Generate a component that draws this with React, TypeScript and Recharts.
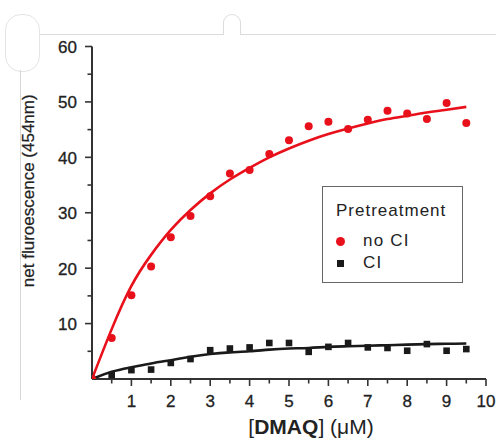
import React from 'react';
import { ComposedChart, Line, Scatter, XAxis, YAxis } from 'recharts';

// [DMAQ] concentrations (uM) shared by every series
const concentrations = [0, 0.5, 1, 1.5, 2, 2.5, 3, 3.5, 4, 4.5, 5, 5.5, 6, 6.5, 7, 7.5, 8, 8.5, 9, 9.5];

// measured points
const noClPoints = [0, 7.4, 15.1, 20.3, 25.6, 29.4, 33.0, 37.1, 37.7, 40.6, 43.1, 45.6, 46.4, 45.1, 46.8, 48.4, 47.9, 46.9, 49.8, 46.2];
const clPoints = [0, 0.7, 1.6, 1.7, 2.9, 3.6, 5.2, 5.5, 5.7, 6.5, 6.5, 4.9, 5.8, 6.5, 5.7, 5.6, 5.1, 6.3, 5.1, 5.4];

// fitted curves
const noClFit = [0, 9.0, 16.8, 22.4, 26.9, 30.5, 33.5, 36.0, 38.1, 40.0, 41.6, 43.0, 44.2, 45.2, 46.1, 46.9, 47.5, 48.1, 48.6, 49.1];
const clFit = [0, 1.3, 2.1, 2.8, 3.4, 4.0, 4.5, 4.8, 5.0, 5.3, 5.5, 5.6, 5.8, 5.9, 6.0, 6.1, 6.2, 6.3, 6.35, 6.4];

// ticks: minor every 0.5 / 5, labels on the major ones
const xTicks = [0.5, 1, 1.5, 2, 2.5, 3, 3.5, 4, 4.5, 5, 5.5, 6, 6.5, 7, 7.5, 8, 8.5, 9, 9.5, 10];
const xLabels = [1, 2, 3, 4, 5, 6, 7, 8, 9, 10];
const yTicks = [5, 10, 15, 20, 25, 30, 35, 40, 45, 50, 55, 60];
const yLabels = [10, 20, 30, 40, 50, 60];

const RED = '#e8101a';
const INK = '#1a1a1a';
const AXIS = '#333';
const TEXT = '#222';
const FONT = '"Liberation Sans", Arial, Helvetica, sans-serif';

const toPoints = (ys: number[]) => concentrations.map((x, i) => ({ x, y: ys[i] }));

const XTick = (props: any) => {
    const { x, y, payload } = props;
    const axisY = y - 8;
    const major = xLabels.includes(payload.value);
    return (
        <g>
            <line x1={x} x2={x} y1={axisY} y2={axisY + (major ? 7 : 4.5)} stroke={AXIS} strokeWidth={1.6} />
            {major && (
                <text x={x} y={axisY + 22} textAnchor="middle" dominantBaseline="central" fontSize={17} fill={TEXT} stroke={TEXT} strokeWidth={0.3} fontFamily={FONT}>
                    {payload.value}
                </text>
            )}
        </g>
    );
};

const YTick = (props: any) => {
    const { x, y, payload } = props;
    const axisX = x + 8;
    const major = yLabels.includes(payload.value);
    return (
        <g>
            <line x1={axisX - (major ? 7 : 4.5)} x2={axisX} y1={y} y2={y} stroke={AXIS} strokeWidth={1.6} />
            {major && (
                <text x={axisX - 15} y={y + 1} textAnchor="end" dominantBaseline="central" fontSize={17} fill={TEXT} stroke={TEXT} strokeWidth={0.3} fontFamily={FONT}>
                    {payload.value}
                </text>
            )}
        </g>
    );
};

const YLabel = (props: any) => {
    const vb = props.viewBox;
    const cx = vb.x - 4;
    const cy = vb.y + vb.height / 2 - 22;
    return (
        <text
            x={cx}
            y={cy}
            transform={`rotate(-90, ${cx}, ${cy})`}
            textAnchor="middle"
            dominantBaseline="central"
            fontSize={17}
            fill={TEXT}
            stroke={TEXT}
            strokeWidth={0.25}
            fontFamily={FONT}
        >
            net fluroescence (454nm)
        </text>
    );
};

const XLabel = (props: any) => {
    const vb = props.viewBox;
    return (
        <text x={vb.x + vb.width / 2 + 22} y={vb.y + 55} textAnchor="middle" fontSize={21} fill={TEXT} fontFamily={FONT}>
            [<tspan fontWeight="bold">DMAQ</tspan>] (μM)
        </text>
    );
};

const Dot = ({ cx, cy }: any) => <circle cx={cx} cy={cy} r={4} fill={RED} />;
const Square = ({ cx, cy }: any) => <rect x={cx - 3.3} y={cy - 3.3} width={6.6} height={6.6} fill={INK} />;

export default function App() {
    return (
        <div style={{ position: 'absolute', left: 0, top: 0, width: 496, height: 441, background: '#fff', fontFamily: FONT }}>
            {/* scan edges */}
            <div style={{ position: 'absolute', left: 38, top: 34, width: 458, borderTop: '1px solid #dcdcdc' }} />
            <div style={{ position: 'absolute', left: 223, top: 14, width: 16, height: 20, border: '1px solid #dcdcdc', borderBottom: 'none', borderRadius: '9px 9px 0 0', background: '#fff' }} />
            <div style={{ position: 'absolute', left: 5, top: 14, width: 33, height: 56, border: '1px solid #e4e4e4', borderRadius: 16, background: '#fff' }} />
            <div style={{ position: 'absolute', left: 20, top: 70, height: 330, borderLeft: '1px solid #d8d8d8' }} />

            <ComposedChart width={496} height={441} margin={{ top: 46.5, right: 10, left: 32, bottom: 32 }}>
                <XAxis
                    type="number"
                    dataKey="x"
                    domain={[0, 10]}
                    ticks={xTicks}
                    interval={0}
                    height={30}
                    axisLine={{ stroke: AXIS, strokeWidth: 2 }}
                    tickLine={false}
                    tickSize={6}
                    tickMargin={2}
                    tick={<XTick />}
                    label={<XLabel />}
                    allowDataOverflow
                />
                <YAxis
                    type="number"
                    dataKey="y"
                    domain={[0, 60]}
                    ticks={yTicks}
                    interval={0}
                    width={60}
                    axisLine={{ stroke: AXIS, strokeWidth: 2 }}
                    tickLine={false}
                    tickSize={6}
                    tickMargin={2}
                    tick={<YTick />}
                    label={<YLabel />}
                    allowDataOverflow
                />
                <Line data={toPoints(clFit)} dataKey="y" type="natural" stroke={INK} strokeWidth={2.6} dot={false} activeDot={false} isAnimationActive={false} />
                <Line data={toPoints(noClFit)} dataKey="y" type="natural" stroke={RED} strokeWidth={2.6} dot={false} activeDot={false} isAnimationActive={false} />
                <Scatter data={toPoints(clPoints)} dataKey="y" shape={<Square />} isAnimationActive={false} />
                <Scatter data={toPoints(noClPoints)} dataKey="y" shape={<Dot />} isAnimationActive={false} />
            </ComposedChart>

            {/* legend box */}
            <div style={{ position: 'absolute', left: 322, top: 186, width: 139, height: 95, border: '1.6px solid #666', color: TEXT }}>
                <div style={{ position: 'absolute', left: 13, top: 14, fontSize: 17, letterSpacing: 1, lineHeight: '20px' }}>Pretreatment</div>
                <div style={{ position: 'absolute', left: 13, top: 50, width: 9, height: 9, borderRadius: '50%', background: RED }} />
                <div style={{ position: 'absolute', left: 40, top: 44, fontSize: 17, letterSpacing: 1.2, lineHeight: '20px' }}>no CI</div>
                <div style={{ position: 'absolute', left: 14, top: 73, width: 7, height: 7, background: INK }} />
                <div style={{ position: 'absolute', left: 40, top: 66, fontSize: 17, letterSpacing: 1.2, lineHeight: '20px' }}>CI</div>
            </div>
        </div>
    );
}
